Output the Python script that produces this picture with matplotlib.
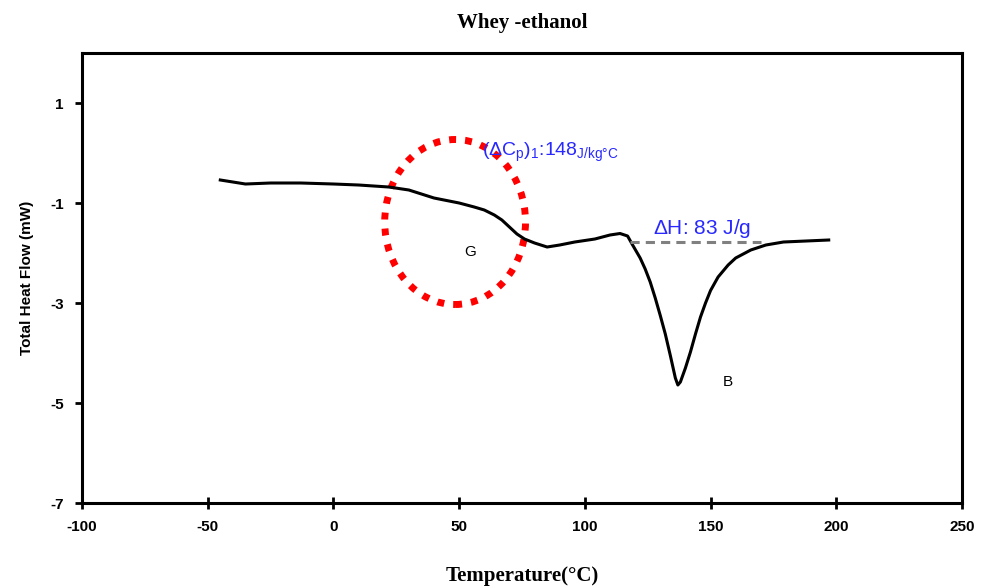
import matplotlib
matplotlib.use("Agg")
import matplotlib.pyplot as plt
from matplotlib.patches import Ellipse

plt.rcParams['font.family'] = ['Liberation Sans', 'DejaVu Sans']
plt.rcParams['mathtext.fontset'] = 'custom'
plt.rcParams['mathtext.rm'] = 'Liberation Sans'
plt.rcParams['mathtext.it'] = 'Liberation Sans'
plt.rcParams['axes.unicode_minus'] = False

# DSC curve
temp = [-45, -40, -35, -25, -13, 0, 10, 22, 30, 40, 50, 56, 60, 64, 67, 70, 73,
        76, 80, 85, 90, 96, 104, 110, 114, 117, 119, 122, 124, 126, 128, 130, 132,
        134, 136, 137, 138, 140, 142, 144, 146, 148, 150, 153, 157, 160, 166, 172,
        179, 188, 197]
heat = [-0.54, -0.58, -0.62, -0.6, -0.6, -0.62, -0.64, -0.68, -0.74, -0.9, -1.0,
        -1.08, -1.14, -1.24, -1.34, -1.48, -1.62, -1.72, -1.8, -1.88, -1.84, -1.78,
        -1.72, -1.64, -1.61, -1.66, -1.84, -2.1, -2.32, -2.58, -2.9, -3.25, -3.62,
        -4.05, -4.5, -4.64, -4.58, -4.3, -3.98, -3.62, -3.28, -3.0, -2.75, -2.48,
        -2.24, -2.1, -1.94, -1.84, -1.78, -1.76, -1.74]

baseline_x = [118, 170]
baseline_y = [-1.78, -1.78]

circle_center = (48.4, -1.38)
circle_w, circle_h = 56, 3.3

xticks = [-100, -50, 0, 50, 100, 150, 200, 250]
yticks = [1, -1, -3, -5, -7]

fig = plt.figure(figsize=(9.81, 5.87), dpi=100)
ax = fig.add_axes([0.0836, 0.1431, 0.897, 0.7666])

ax.plot(temp, heat, color='black', lw=2.2)
ax.plot(baseline_x, baseline_y, color='#808080', lw=2.2, ls=(0, (3, 2)))

ax.add_patch(Ellipse(circle_center, circle_w, circle_h, fill=False,
                     edgecolor='red', lw=5, ls=(0, (1, 1.3))))

ax.text(59, 0.02, r'$(\Delta\mathrm{C}_\mathrm{p})_1$:148$_{\mathrm{J/kg°C}}$',
        color='#2828ff', fontsize=14, va='center', ha='left')
ax.text(127, -1.5, r'$\Delta$H: 83 J/g', color='#2828ff', fontsize=15,
        va='center', ha='left')
ax.text(54.4, -1.98, 'G', fontsize=11, ha='center', va='center')
ax.text(157, -4.58, 'B', fontsize=11, ha='center', va='center')

ax.set_xlim(-100, 250)
ax.set_ylim(-7, 2)
ax.set_xticks(xticks)
ax.set_yticks(yticks)
ax.tick_params(axis='x', direction='inout', length=8, width=2, pad=8)
ax.tick_params(axis='y', direction='out', length=5, width=2, pad=8)
for lab in ax.get_xticklabels() + ax.get_yticklabels():
    lab.set_fontweight('bold')
    lab.set_fontsize(11)
for s in ax.spines.values():
    s.set_linewidth(2.2)

ax.set_title('Whey -ethanol', fontfamily='Liberation Serif', fontweight='bold',
             fontsize=15, pad=18)
ax.set_xlabel('Temperature(°C)', fontfamily='Liberation Serif', fontweight='bold',
              fontsize=15, labelpad=23)
ax.set_ylabel('Total Heat Flow (mW)', fontweight='bold', fontsize=11, labelpad=12)

fig.savefig('out.png', dpi=100)
